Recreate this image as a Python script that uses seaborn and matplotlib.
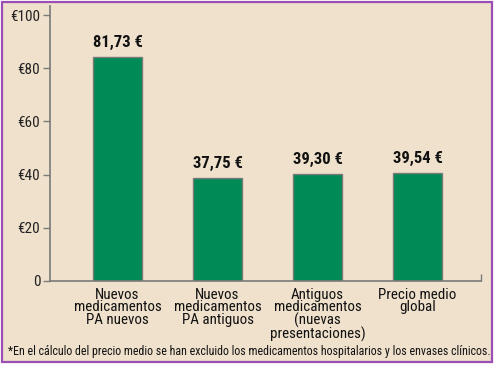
import matplotlib
matplotlib.use("Agg")
import matplotlib.pyplot as plt
import seaborn as sns
import pandas as pd
from matplotlib import font_manager
from matplotlib.patches import Rectangle

categories = ["Nuevos\nmedicamentos\nPA nuevos", "Nuevos\nmedicamentos\nPA antiguos",
              "Antiguos\nmedicamentos\n(nuevas\npresentaciones)", "Precio medio\nglobal"]
# bar heights as drawn in the picture, labels as printed
bar_values = [84.2, 38.9, 40.3, 40.6]
value_labels = ["81,73 €", "37,75 €", "39,30 €", "39,54 €"]
y_ticks = [0, 20, 40, 60, 80, 100]
y_tick_labels = ["0", "€20", "€40", "€60", "€80", "€100"]
footnote = "*En el cálculo del precio medio se han excluido los medicamentos hospitalarios y los envases clínicos."

bg = "#efe1cc"
green = "#008a55"

sns.set_style("white")
installed = {f.name for f in font_manager.fontManager.ttflist}
candidates = ["Liberation Sans Narrow", "Roboto Condensed", "Open Sans Condensed",
              "Noto Sans Condensed", "Arial Narrow", "Liberation Sans"]
narrow = next(c for c in candidates if c in installed)
plt.rcParams["font.family"] = [narrow, "DejaVu Sans"]
plt.rcParams["font.stretch"] = "condensed"

df = pd.DataFrame({"cat": categories, "val": bar_values})

fig = plt.figure(figsize=(4.97, 3.67), dpi=100, facecolor="white")
fig.patches.append(Rectangle((1.5 / 497, 5 / 367), 490.5 / 497, 360.5 / 367, transform=fig.transFigure,
                             facecolor=bg, edgecolor="#9b4fb5", linewidth=1.6, zorder=-5))
ax = fig.add_axes([50 / 497, (367 - 281) / 367, 431 / 497, 275 / 367])
ax.set_facecolor(bg)
ax.patch.set_alpha(0)

sns.barplot(data=df, x="cat", y="val", color=green, width=0.49, saturation=1,
            edgecolor="#7a7a7a", linewidth=1, ax=ax)

for i, (v, lab) in enumerate(zip(bar_values, value_labels)):
    ax.annotate(lab, (i, v), xytext=(0, 5), textcoords="offset points", ha="center", va="bottom",
                fontsize=12, fontweight="bold", color="#111111")

ax.set_xlim(-0.675, 3.635)
ax.set_ylim(0, 103.4)
ax.set_yticks(y_ticks)
ax.set_yticklabels(y_tick_labels, fontsize=11, color="#222222")
ax.set_xticks(range(len(categories)))
ax.set_xticklabels(categories, fontsize=10.8, color="#111111", linespacing=0.86)
ax.tick_params(axis="y", length=5, width=1, color="#7a7a7a", pad=2, direction="out", left=True)
ax.tick_params(axis="x", length=0, pad=5)
ax.set_xticks([3.635], minor=True)
ax.tick_params(axis="x", which="minor", direction="in", length=5, width=1, color="#7a7a7a", bottom=True)
ax.set_xlabel("")
ax.set_ylabel("")
for s in ["top", "right"]:
    ax.spines[s].set_visible(False)
for s in ["left", "bottom"]:
    ax.spines[s].set_color("#7a7a7a")
    ax.spines[s].set_linewidth(1.2)

fig.text(249 / 497, (367 - 352) / 367, footnote, ha="center", va="center", fontsize=8.6, color="#111111")

fig.savefig("out.png", dpi=100, facecolor="white")
